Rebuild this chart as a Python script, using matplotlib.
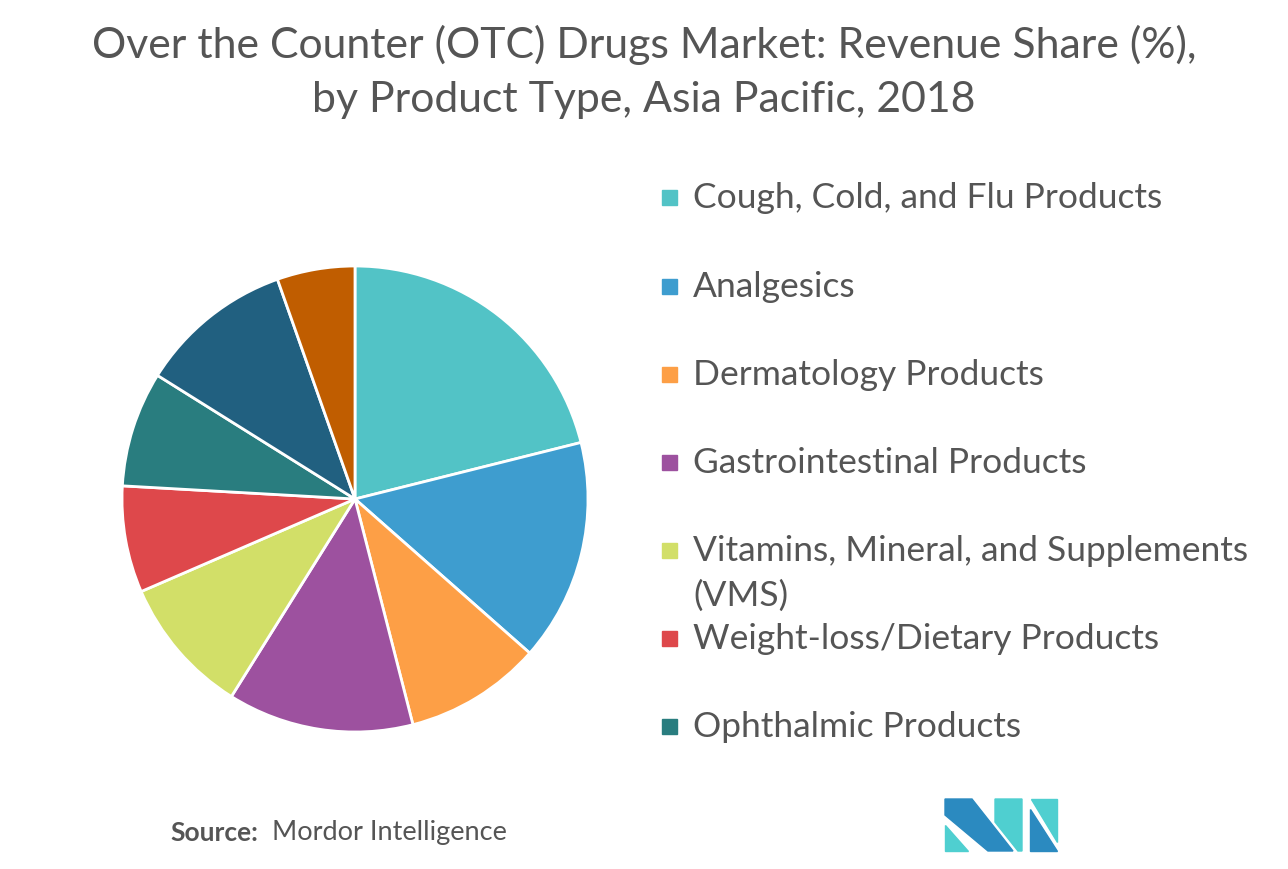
import matplotlib.pyplot as plt
from matplotlib.patches import Rectangle, Polygon

plt.rcParams['font.family'] = ['Lato', 'DejaVu Sans']

labels = ["Cough, Cold, and Flu Products", "Analgesics", "Dermatology Products",
          "Gastrointestinal Products", "Vitamins, Mineral, and Supplements\n(VMS)",
          "Weight-loss/Dietary Products", "Ophthalmic Products"]
# last two slices have no legend entry in the original
shares = [21.1, 15.4, 9.5, 12.9, 9.6, 7.4, 8.0, 10.7, 5.4]
colors = ["#52c3c6", "#3e9dcf", "#fd9f46", "#9d519f", "#d2df68",
          "#de484b", "#297d7f", "#216080", "#c05d00"]

W, H = 1288, 870
fig = plt.figure(figsize=(W / 100, H / 100), dpi=100)
txt = "#555555"

fig.text(0.5, 1 - 45 / H, "Over the Counter (OTC) Drugs Market: Revenue Share (%),",
         ha="center", va="center", fontsize=30.8, color=txt)
fig.text(0.5, 1 - 100 / H, "by Product Type, Asia Pacific, 2018",
         ha="center", va="center", fontsize=30.8, color=txt)

# pie centred at (355, 500) px, radius 233 px
cx, cy, r = 355, 500, 233
ax = fig.add_axes([(cx - r) / W, (H - cy - r) / H, 2 * r / W, 2 * r / H])
ax.pie(shares, colors=colors, startangle=90, counterclock=False, radius=1,
       wedgeprops=dict(edgecolor="white", linewidth=2))
ax.set_xlim(-1, 1)
ax.set_ylim(-1, 1)
ax.set_aspect("equal")
ax.axis("off")

# legend drawn by hand to keep the uneven spacing
ys = [198, 287, 375, 463, 551, 639, 727]
for lab, col, y in zip(labels, colors, ys):
    fig.patches.append(Rectangle((662 / W, 1 - (y + 8) / H), 15 / W, 15 / H,
                                 transform=fig.transFigure, color=col))
    if "\n" in lab:
        first, second = lab.split("\n")
        fig.text(693 / W, 1 - y / H, first, va="center", fontsize=25.5, color=txt)
        fig.text(693 / W, 1 - (y + 45) / H, second, va="center", fontsize=25.5, color=txt)
    else:
        fig.text(693 / W, 1 - y / H, lab, va="center", fontsize=25.5, color=txt)

fig.text(170 / W, 1 - 833 / H, "Source:", fontweight="bold", va="center",
         fontsize=19, color=txt)
fig.text(272 / W, 1 - 833 / H, "Mordor Intelligence", va="center",
         fontsize=19.5, color=txt)

# logo
dark, light = "#2b8ac0", "#4fcfd0"
logo = [
    (dark, [(945, 800), (972, 800), (1013, 852), (988, 852), (945, 816)]),
    (light, [(945, 826), (945, 852), (968, 852)]),
    (light, [(995, 800), (1022, 800), (1022, 852), (1018, 852), (995, 823)]),
    (dark, [(1030, 810), (1030, 852), (1057, 852)]),
    (light, [(1031, 800), (1057, 800), (1057, 843)]),
]
for col, pts in logo:
    fig.patches.append(Polygon([(x / W, 1 - y / H) for x, y in pts],
                               closed=True, transform=fig.transFigure, color=col))

fig.savefig("out.png", dpi=100, facecolor="white")
